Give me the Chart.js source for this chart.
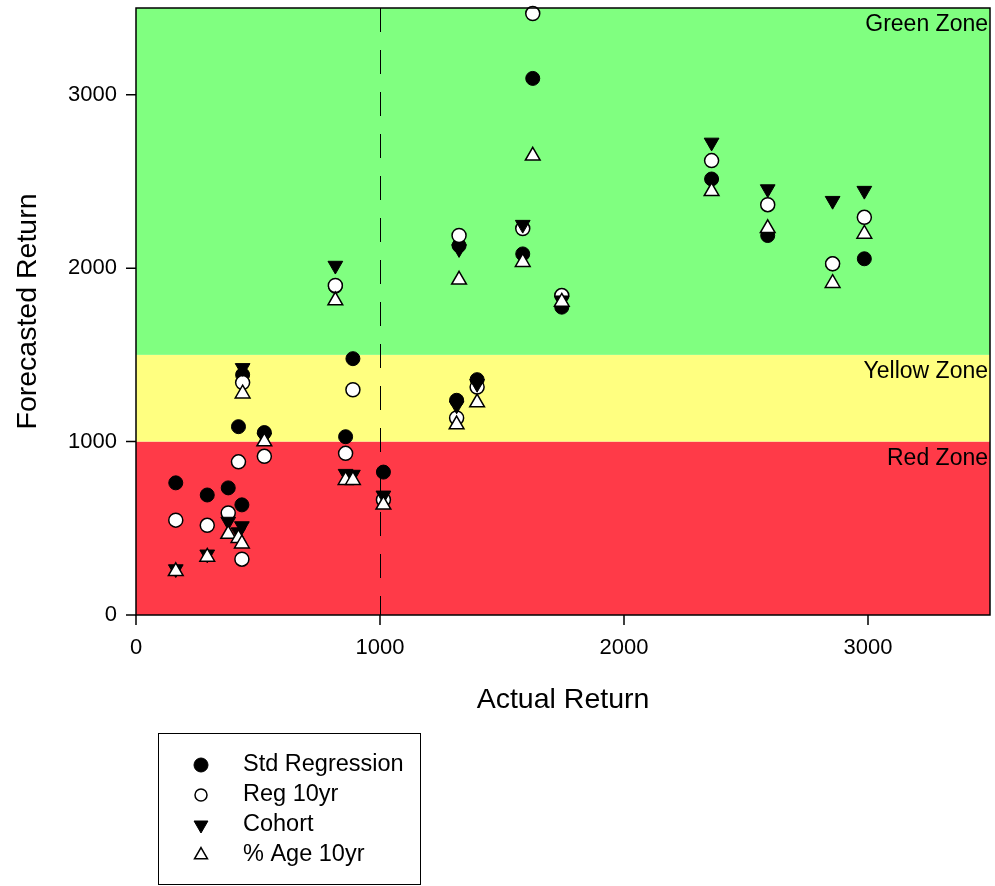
<!DOCTYPE html>
<html>
<head>
<meta charset="utf-8">
<title>Forecasted vs Actual Return</title>
<script src="https://cdn.jsdelivr.net/npm/chart.js@4.4.1/dist/chart.umd.min.js"></script>
<style>
  body { margin: 0; background: #fff; }
  #wrap { width: 995px; height: 886px; }
</style>
</head>
<body>
<div id="wrap"><canvas id="chart" width="995" height="886"></canvas></div>
<script>
// actual return for each case (x axis)
const actual = [163, 292, 378, 420, 437, 434, 526, 817, 859, 889, 1014, 1314, 1324, 1398, 1585, 1626, 1745, 2359, 2589, 2855, 2985];
// forecasts for each case (y axis), one array per method
const stdRegression = [762, 692, 733, 1086, 1385, 635, 1052, 1895, 1028, 1478, 824, 1238, 2130, 1357, 2082, 3094, 1775, 2514, 2188, 2025, 2054];
const reg10yr       = [547, 517, 588, 883, 1340, 322, 915, 1900, 932, 1299, 665, 1136, 2188, 1314, 2228, 3468, 1842, 2620, 2366, 2025, 2293];
const cohort        = [265, 350, 539, 478, 1425, 513, 1025, 2015, 815, 810, 690, 1209, 2111, 1334, 2251, null, 1815, 2725, 2456, 2389, 2447];
const age10yr       = [252, 335, 467, 443, 1276, 411, 1000, 1813, 777, 777, 635, 1098, 1933, 1225, 2034, 2648, 1805, 2443, 2230, 1913, 2197];
const seriesLabels = ['Std Regression', 'Reg 10yr', 'Cohort', '% Age 10yr'];

// zones and reference line
const zoneNames = ['Red Zone', 'Yellow Zone', 'Green Zone'];
const zoneBounds = [0, 1000, 1500, 3500];
const zoneColors = ['#ff3a48', '#ffff80', '#80ff80'];
const cutoff = 1000;
const axisMax = 3500;

const FONT = '"Liberation Sans", Arial, sans-serif';

function points(ys) {
  const out = [];
  ys.forEach((v, i) => { if (v !== null) out.push({ x: actual[i], y: v }); });
  return out;
}

const datasets = [
  { label: seriesLabels[0], data: points(stdRegression), pointStyle: 'circle', pointRadius: 7,
    backgroundColor: '#000', borderColor: '#000', borderWidth: 1, order: 4 },
  { label: seriesLabels[1], data: points(reg10yr), pointStyle: 'circle', pointRadius: 7,
    backgroundColor: '#fff', borderColor: '#000', borderWidth: 1.5, order: 3 },
  { label: seriesLabels[2], data: points(cohort), pointStyle: 'triangle', pointRotation: 180, pointRadius: 8.5,
    backgroundColor: '#000', borderColor: '#000', borderWidth: 1, order: 2 },
  { label: seriesLabels[3], data: points(age10yr), pointStyle: 'triangle', pointRadius: 8.5,
    backgroundColor: '#fff', borderColor: '#000', borderWidth: 1.5, order: 1 }
];
datasets.forEach(d => { d.clip = false; d.showLine = false; });

const zonePlugin = {
  id: 'zones',
  beforeDatasetsDraw(chart) {
    const { ctx, chartArea: a, scales: { x, y } } = chart;
    ctx.save();
    for (let i = 0; i < zoneNames.length; i++) {
      const top = y.getPixelForValue(zoneBounds[i + 1]);
      const bot = y.getPixelForValue(zoneBounds[i]);
      ctx.fillStyle = zoneColors[i];
      ctx.fillRect(a.left, top, a.right - a.left, bot - top);
    }
    ctx.fillStyle = '#000';
    ctx.font = '23px ' + FONT;
    ctx.textAlign = 'right';
    ctx.textBaseline = 'middle';
    for (let i = 0; i < zoneNames.length; i++) {
      ctx.fillText(zoneNames[i], a.right - 2, y.getPixelForValue(zoneBounds[i + 1]) + 17);
    }
    // dashed line at the cutoff
    const xp = Math.round(x.getPixelForValue(cutoff)) + 0.5;
    ctx.setLineDash([24, 18]);
    ctx.lineWidth = 1;
    ctx.strokeStyle = '#000';
    ctx.beginPath();
    ctx.moveTo(xp, a.top);
    ctx.lineTo(xp, a.bottom);
    ctx.stroke();
    ctx.restore();
  },
  afterDraw(chart) {
    const { ctx, chartArea: a, scales: { x, y } } = chart;
    ctx.save();
    ctx.strokeStyle = '#000';
    ctx.lineWidth = 1.5;
    ctx.strokeRect(a.left, a.top, a.right - a.left, a.bottom - a.top);
    // tick marks, long on labelled values
    ctx.beginPath();
    x.ticks.forEach(t => {
      if (t.value >= axisMax) return;
      const px = x.getPixelForValue(t.value);
      const len = t.value % 1000 === 0 ? 10 : 6;
      ctx.moveTo(px, a.bottom);
      ctx.lineTo(px, a.bottom + len);
    });
    y.ticks.forEach(t => {
      const py = y.getPixelForValue(t.value);
      const len = t.value % 1000 === 0 ? 10 : 6;
      ctx.moveTo(a.left, py);
      ctx.lineTo(a.left - len, py);
    });
    ctx.stroke();

    // legend box
    ctx.lineWidth = 1;
    ctx.strokeRect(158.5, 733.5, 262, 151);
    ctx.font = '23.5px ' + FONT;
    ctx.textAlign = 'left';
    ctx.textBaseline = 'middle';
    const sizes = [7, 6, 8, 7.5];
    chart.data.datasets.forEach((d, i) => {
      const ly = 765 + i * 30;
      ctx.fillStyle = d.backgroundColor;
      ctx.strokeStyle = d.borderColor;
      ctx.lineWidth = d.borderWidth;
      Chart.helpers.drawPoint(ctx, {
        pointStyle: d.pointStyle, rotation: d.pointRotation || 0,
        radius: sizes[i], borderWidth: d.borderWidth
      }, 201, ly);
      ctx.fillStyle = '#000';
      ctx.fillText(d.label, 243, ly);
    });
    ctx.restore();
  }
};

// label only the thousands; null keeps the tick but adds no label size
const labelEvery1000 = v => (v % 1000 === 0 && v < axisMax ? String(v) : null);

new Chart(document.getElementById('chart'), {
  type: 'scatter',
  data: { datasets: datasets },
  options: {
    responsive: false,
    animation: false,
    devicePixelRatio: 1,
    events: [],
    layout: { autoPadding: false, padding: { left: 0, right: 5, top: 8, bottom: 166 } },
    plugins: { legend: { display: false }, tooltip: { enabled: false } },
    scales: {
      x: {
        type: 'linear', min: 0, max: axisMax,
        grid: { display: false, drawTicks: true, tickLength: 20 },
        border: { display: false },
        ticks: { stepSize: 500, autoSkip: false, maxRotation: 0, padding: 0,
                 color: '#000', font: { family: FONT, size: 22 }, callback: labelEvery1000 },
        title: { display: true, text: 'Actual Return', color: '#000',
                 font: { family: FONT, size: 28.5 }, padding: { top: 0, bottom: 3 } },
        afterFit(axis) { axis.height = 105; axis.paddingLeft = 0; axis.paddingRight = 0; }
      },
      y: {
        type: 'linear', min: 0, max: axisMax,
        grid: { display: false, drawTicks: true, tickLength: 19 },
        border: { display: false },
        ticks: { stepSize: 500, autoSkip: false, padding: 0,
                 color: '#000', font: { family: FONT, size: 22 }, callback: labelEvery1000 },
        title: { display: true, text: 'Forecasted Return', color: '#000',
                 font: { family: FONT, size: 28.5 }, padding: { top: 11, bottom: 0 } },
        afterFit(axis) { axis.width = 136; axis.paddingTop = 0; axis.paddingBottom = 0; }
      }
    }
  },
  plugins: [zonePlugin]
});
</script>
</body>
</html>
